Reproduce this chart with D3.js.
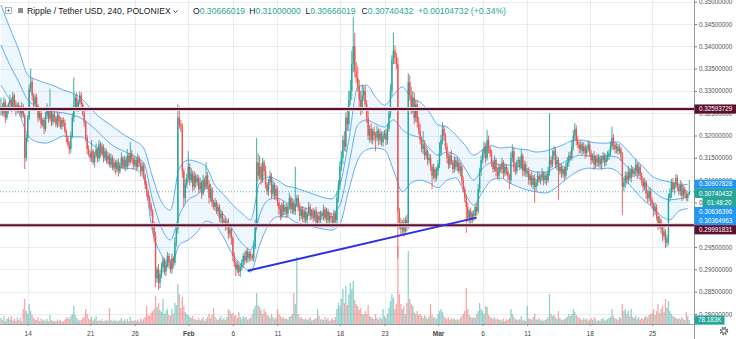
<!DOCTYPE html>
<html>
<head>
<meta charset="utf-8">
<script src="https://d3js.org/d3.v7.min.js"></script>
<style>
body { margin: 0; background: #fff; overflow: hidden; }
svg { display: block; font-family: "Liberation Sans", Arial, sans-serif; }
</style>
</head>
<body>
<svg id="chart" width="736" height="339"></svg>
<script>
// 4h candles XRP/USDT, first candle 11 Jan 2019 00:00 UTC
// prices in units of 0.0001 USDT, one row = one day (6 candles)
var closeP = [
3265,3250,3275,3240,3258,3270,
3280,3262,3290,3270,3255,3268,
3262,3250,3265,3245,3150,3195,
3240,3305,3320,3290,3270,3285,
3265,3240,3250,3225,3235,3215,
3245,3260,3238,3255,3230,3248,
3240,3225,3245,3232,3220,3235,
3228,3210,3195,3180,3170,3200,
3240,3265,3285,3262,3275,3290,
3270,3250,3230,3195,3170,3160,
3150,3165,3140,3155,3170,3148,
3180,3160,3175,3150,3165,3145,
3155,3135,3150,3128,3140,3125,
3140,3120,3135,3150,3130,3145,
3130,3155,3140,3160,3148,3135,
3145,3130,3150,3138,3120,3132,
3110,3090,3075,3060,3045,3030,
3000,2975,2880,2900,2870,2890,
2905,2920,2895,2910,2930,2915,
2900,2925,2915,2960,2990,3240,
3225,3220,3120,3060,3090,3105,
3130,3100,3115,3085,3110,3095,
3105,3080,3095,3070,3100,3085,
3110,3090,3060,3080,3050,3040,
3050,3030,3040,3015,3025,3005,
3010,2995,3005,2980,2990,2970,
2930,2915,2900,2910,2895,2905,
2915,2930,2920,2940,2925,2935,
2930,2925,2950,3000,3140,3110,
3130,3100,3140,3120,3090,3075,
3095,3110,3070,3090,3065,3080,
3050,3035,3020,3045,3030,3040,
3025,3040,3060,3035,3050,3030,
3045,3060,3040,3020,3035,3015,
3030,3010,3025,3040,3020,3030,
3015,3030,3005,3020,3010,3025,
3020,3035,3015,3030,3010,3020,
3015,3005,3025,3010,3060,3090,
3130,3150,3190,3175,3240,3225,
3280,3300,3360,3400,3345,3330,
3310,3280,3260,3290,3300,3270,
3240,3200,3215,3190,3210,3200,
3195,3210,3190,3205,3185,3200,
3205,3190,3215,3250,3300,3370,
3390,3375,3360,3030,3005,2990,
3005,2985,3010,3000,3320,3290,
3260,3285,3240,3270,3230,3210,
3190,3170,3180,3155,3165,3145,
3150,3130,3110,3125,3105,3120,
3135,3160,3190,3215,3200,3175,
3150,3135,3155,3140,3125,3145,
3130,3140,3120,3130,3100,3080,
3060,3040,3015,3030,3010,3025,
3020,3040,3030,3080,3120,3145,
3160,3175,3150,3190,3170,3160,
3140,3125,3145,3120,3110,3130,
3125,3140,3115,3130,3120,3110,
3100,3150,3165,3130,3120,3140,
3145,3130,3155,3120,3135,3115,
3120,3100,3110,3090,3105,3085,
3095,3110,3100,3105,3115,3100,
3110,3100,3120,3145,3135,3155,
3165,3135,3145,3120,3130,3115,
3125,3110,3130,3140,3155,3150,
3175,3200,3215,3190,3180,3170,
3180,3165,3175,3160,3170,3180,
3160,3145,3155,3135,3150,3140,
3150,3135,3145,3155,3140,3150,
3155,3160,3175,3195,3180,3170,
3175,3165,3170,3155,3085,3095,
3110,3100,3120,3105,3125,3115,
3120,3135,3115,3130,3110,3100,
3085,3095,3070,3060,3075,3055,
3045,3030,3040,3020,3000,3010,
2990,2975,2985,2960,2970,3060,
3070,3095,3080,3090,3105,3085,
3075,3090,3065,3080,3070,3060,
3067,3074
];
var firstOpen = 3255;

// upper wick above body, same units
var wickUp = [
20,8,12,6,10,5, 12,5,8,4,9,6, 7,5,10,6,4,8, 6,10,30,8,5,7, 9,5,7,10,4,6,
8,12,4,50,6,5, 7,4,9,6,10,5, 6,8,4,5,7,9, 10,65,8,12,6,9, 7,5,10,4,6,8,
6,25,5,9,12,4, 10,6,8,5,7,4, 8,5,10,6,9,5, 6,8,5,12,4,10, 7,15,6,25,8,5,
9,6,10,5,7,8, 6,5,8,4,6,5, 5,8,10,6,12,8, 10,8,5,12,9,6, 7,10,5,12,8,30,
25,10,8,6,12,9, 35,8,12,6,10,5, 8,6,10,5,12,6, 30,8,10,12,5,6, 10,5,8,6,9,5,
6,8,5,10,7,4, 5,8,6,10,5,7, 8,6,10,5,9,6, 7,5,10,12,55,20, 25,8,10,6,12,5,
8,12,6,10,5,9, 6,8,10,5,9,6, 8,6,12,5,10,7, 85,6,8,10,5,7, 6,9,5,12,7,5,
8,5,10,6,9,7, 6,10,5,8,6,9, 7,5,9,6,12,10, 12,15,10,20,12,25, 20,25,30,65,30,20,
25,15,20,25,10,12, 10,15,8,12,6,10, 8,12,6,10,5,9, 7,10,12,8,15,10, 40,12,10,15,8,10,
6,10,8,12,20,15, 20,15,12,10,8,12, 15,8,30,10,12,6, 10,8,6,12,5,9, 10,25,12,15,8,6,
8,10,6,12,5,9, 7,12,6,10,5,8, 6,8,10,5,9,6, 8,6,10,12,8,10, 10,12,8,22,10,6,
8,6,10,5,9,7, 6,10,5,8,6,9, 5,12,15,8,10,6, 8,6,15,5,9,7, 6,9,5,10,6,8,
7,10,6,8,12,5, 8,5,10,105,8,12, 12,8,10,6,9,5, 8,6,10,12,8,10, 15,12,13,8,10,6,
9,6,10,5,8,10, 6,8,5,10,6,9, 8,5,10,8,6,9, 10,8,12,25,8,6, 9,6,10,5,8,10,
10,8,12,6,9,5, 8,12,6,10,5,7, 6,10,5,8,9,5, 7,5,10,6,8,9, 6,8,10,5,7,10,
12,8,10,6,9,7, 8,10,6,9,5,7, 5,26
];

// lower wick below body
var wickDown = [
10,6,8,12,5,9, 7,10,5,8,12,6, 9,6,10,5,25,8, 10,6,8,12,6,9, 8,10,6,9,5,12,
6,8,10,5,9,6, 10,6,8,12,5,7, 8,5,10,6,12,9, 6,10,5,8,9,6, 9,6,10,8,12,7,
8,10,6,12,5,9, 6,9,5,10,7,8, 10,6,8,5,9,12, 8,12,6,9,5,7, 10,6,9,5,8,12,
6,10,5,8,12,6, 8,10,12,6,9,10, 12,15,20,10,16,12, 10,12,8,10,6,9, 8,10,12,6,9,10,
10,12,15,20,10,8, 9,12,6,10,8,12, 8,10,6,12,5,9, 6,10,12,8,10,6, 9,6,10,8,12,5,
10,8,6,12,8,15, 12,10,15,8,10,12, 8,12,10,6,9,8, 10,6,8,5,10,12, 8,10,6,12,9,8,
10,6,12,8,9,10, 8,12,10,6,9,8, 10,8,6,9,12,6, 8,6,10,12,8,10, 10,12,8,6,10,8,
9,6,12,8,10,6, 8,10,6,12,9,8, 10,12,8,6,8,10, 12,10,15,10,12,15, 15,12,20,18,15,12,
12,20,15,10,12,15, 12,10,15,8,10,12, 30,8,12,10,8,10, 8,12,10,6,10,12, 10,15,12,105,15,12,
10,12,8,15,10,12, 12,10,15,10,12,8, 10,8,12,10,8,12, 8,10,30,8,10,6, 10,8,6,10,12,8,
12,10,8,6,10,8, 8,10,6,12,10,8, 10,58,8,12,10,8, 12,8,10,6,8,10, 8,10,12,6,10,8,
10,8,6,12,8,10, 8,10,12,6,9,10, 20,8,10,12,8,6, 10,8,6,12,10,8, 8,10,12,6,10,35,
10,8,6,10,8,12, 8,12,6,10,8,6, 10,8,12,64,8,10, 8,10,6,8,10,6, 6,8,10,12,8,10,
10,8,6,12,8,6, 8,10,6,12,8,10, 10,8,12,6,10,8, 8,10,6,8,12,10, 10,8,6,12,63,10,
12,10,8,6,10,8, 8,10,12,6,8,12, 10,8,12,10,8,12, 10,12,8,10,12,8, 10,12,8,12,10,15,
8,10,6,12,8,10, 8,10,12,8,10,6, 8,1
];

// volume, thousands
var volumeK = [
120,80,160,60,100,140, 90,160,70,110,60,130, 80,120,60,300,500,260, 200,400,260,180,120,90,
80,140,60,110,70,90, 60,100,50,180,80,60, 70,50,90,60,80,40, 60,90,120,140,100,160,
200,360,180,120,90,70, 80,120,140,300,200,110, 90,140,70,100,160,60, 80,60,100,50,70,90,
60,320,80,50,90,60, 70,50,80,120,60,90, 60,100,50,140,70,60, 80,60,90,50,120,70,
100,140,360,180,160,220, 260,300,560,340,420,280, 240,500,200,260,300,180, 160,300,200,420,380,800,
600,320,540,360,240,200, 180,140,120,160,100,90, 80,120,70,100,140,60, 100,140,200,120,180,320,
140,100,80,120,160,90, 120,80,140,300,260,200, 220,160,180,120,240,140, 100,160,120,140,90,110,
120,200,300,360,620,380, 340,280,200,300,240,180, 160,120,200,140,100,130, 300,200,160,120,140,100,
120,90,140,160,200,620, 400,1340,200,120,140,100, 90,120,80,100,140,70, 80,100,120,300,160,90,
100,80,140,90,120,60, 90,120,80,140,300,420, 360,500,700,420,760,380, 600,820,700,860,480,400,
360,280,320,200,180,260, 200,380,160,140,120,100, 200,120,90,140,100,300, 160,120,200,320,460,600,
520,300,400,1560,600,400, 300,360,200,420,1460,500, 400,360,240,200,260,180, 200,160,120,180,140,100,
160,400,180,120,140,100, 200,260,300,240,160,120, 100,140,80,120,90,110, 80,100,70,120,160,200,
260,720,300,180,140,120, 140,120,200,260,420,300, 260,200,360,340,180,140, 120,100,140,90,110,80,
90,70,110,60,100,80, 120,300,200,140,100,90, 80,100,160,70,90,60, 360,120,100,90,140,200,
100,80,120,70,90,60, 80,100,140,600,200,160, 180,140,100,260,120,90, 80,100,120,140,200,160,
200,300,240,180,140,120, 100,80,120,90,110,70, 90,120,80,140,100,60, 80,60,100,120,70,90,
100,120,140,300,160,120, 100,80,140,120,400,260, 300,200,260,160,300,140, 120,160,100,140,90,120,
100,140,160,120,180,200, 220,300,180,260,400,220, 300,360,240,500,320,460, 260,200,160,140,120,100,
120,90,140,100,80,240, 160,78.183
];

// Bollinger bands read once per day (00:00 candle)
var bbUpper = [
3493,3441,3392,3336,3325,3318,3311,3302,3295,3284,
3262,3242,3228,3213,3199,3188,3172,3107,3051,3033,
3127,3145,3141,3130,3089,3067,3044,3026,3011,3094,
3107,3100,3087,3083,3076,3069,3062,3058,3089,3190,
3309,3313,3286,3268,3291,3309,3284,3275,3253,3224,
3219,3201,3179,3156,3168,3177,3172,3174,3170,3168,
3163,3165,3172,3179,3188,3190,3186,3183,3183,3186,
3172,3150,3130,3109,3100,3096,3089,3091];
var bbMiddle = [
3403,3358,3320,3280,3266,3257,3253,3251,3246,3239,
3224,3206,3186,3172,3163,3154,3139,3056,2993,2966,
3022,3056,3067,3083,3044,3022,2988,2959,2944,3022,
3056,3060,3049,3044,3038,3031,3026,3024,3044,3134,
3224,3235,3226,3219,3235,3213,3201,3195,3172,3156,
3163,3156,3127,3100,3127,3139,3134,3134,3130,3125,
3118,3118,3127,3139,3150,3156,3154,3152,3154,3152,
3134,3116,3096,3078,3062,3056,3058,3064];
var bbLower = [
3313,3280,3251,3201,3186,3183,3190,3199,3197,3197,
3183,3168,3141,3130,3127,3125,3105,2984,2932,2903,
2955,2966,2984,3008,3000,2970,2932,2910,2894,2955,
3000,3018,3018,3006,3000,2995,2991,2988,3002,3078,
3145,3168,3172,3168,3123,3074,3094,3100,3094,3083,
3100,3105,3071,3044,3074,3100,3105,3094,3085,3078,
3074,3071,3080,3096,3112,3123,3127,3125,3127,3121,
3100,3078,3056,3040,3020,3011,3031,3036];

var priceTicks = [0.35,0.345,0.34,0.335,0.33,0.325,0.32,0.315,0.31,0.305,0.30,0.295,0.29,0.285,0.28];
var dateTicks = ["2019-01-14","2019-01-21","2019-01-26","2019-02-01","2019-02-06","2019-02-11","2019-02-18",
                 "2019-02-23","2019-03-01","2019-03-06","2019-03-11","2019-03-18","2019-03-25"];
var dateTickLabels = ["14","21","26","Feb","6","11","18","23","Mar","6","11","18","25"];

var levelLines = [0.32593729, 0.29991831];
var trendDates = ["2019-02-07T16:00:00Z", "2019-03-05T08:00:00Z"];
var trendPrices = [0.2897, 0.3016];
var lastPrice = 0.30740432;
var bandLast = [0.30907828, 0.30636396, 0.30364963];
var countdown = "01:48:20";
var lastVolumeText = "78.183K";

var title = "Ripple / Tether USD, 240, POLONIEX";
var ohlcNames = ["O", "H", "L", "C"];
var ohlcValues = ["0.30666019", "0.31000000", "0.30666019", "0.30740432"];
var changeText = "+0.00104732 (+0.34%)";

// ---------------------------------------------------------------
var W = 736, H = 339, plotR = 694, plotB = 324;
var HOUR = 3600e3;
var t0 = Date.UTC(2019, 0, 11);
var upCol = "#26a69a", downCol = "#ef5350";

var x = d3.scaleUtc()
  .domain([new Date(t0), new Date(Date.UTC(2019, 2, 29))])
  .range([0.94, 0.94 + 77 * 8.92]);
var y = d3.scaleLinear().domain([0.28, 0.35]).range([314, 1.7]);
var yVol = d3.scaleLinear().domain([0, 1600]).range([plotB, plotB - 80]);

var n = closeP.length;
var candles = closeP.map(function(c, i) {
  var o = i === 0 ? firstOpen : closeP[i - 1];
  return {
    t: new Date(t0 + i * 4 * HOUR),
    o: o / 1e4, c: c / 1e4,
    h: (Math.max(o, c) + wickUp[i]) / 1e4,
    l: (Math.min(o, c) - wickDown[i]) / 1e4,
    v: volumeK[i]
  };
});
function col(d) { return d.c >= d.o ? upCol : downCol; }

var bands = bbUpper.map(function(u, d) {
  return { t: new Date(t0 + Math.min(d * 6, n - 1) * 4 * HOUR), u: u / 1e4, m: bbMiddle[d] / 1e4, l: bbLower[d] / 1e4 };
});

var svg = d3.select("#chart");
svg.append("rect").attr("width", W).attr("height", H).attr("fill", "#fff");
svg.append("clipPath").attr("id", "plot").append("rect").attr("width", plotR).attr("height", plotB);

// grid
var grid = svg.append("g").attr("stroke", "#e9edf2").attr("stroke-width", 1);
grid.selectAll(".h").data(priceTicks).enter().append("line")
  .attr("x1", 0).attr("x2", plotR)
  .attr("y1", function(d) { return Math.round(y(d)) + 0.5; })
  .attr("y2", function(d) { return Math.round(y(d)) + 0.5; });
grid.selectAll(".v").data(dateTicks).enter().append("line")
  .attr("x1", function(d) { return Math.round(x(new Date(d + "T00:00:00Z"))) + 0.5; })
  .attr("x2", function(d) { return Math.round(x(new Date(d + "T00:00:00Z"))) + 0.5; })
  .attr("y1", 0).attr("y2", plotB);

var plot = svg.append("g").attr("clip-path", "url(#plot)");

// volume
plot.append("g").selectAll("rect").data(candles).enter().append("rect")
  .attr("x", function(d) { return x(d.t) - 0.65; })
  .attr("width", 1.3)
  .attr("y", function(d) { return yVol(d.v); })
  .attr("height", function(d) { return plotB - yVol(d.v); })
  .attr("fill", function(d) { return d.c >= d.o ? "rgba(38,166,154,0.5)" : "rgba(239,83,80,0.5)"; });

// bollinger
plot.append("path").datum(bands)
  .attr("fill", "rgba(33,150,243,0.08)")
  .attr("d", d3.area().x(function(d) { return x(d.t); })
    .y0(function(d) { return y(d.l); }).y1(function(d) { return y(d.u); })
    .curve(d3.curveMonotoneX));
["u", "m", "l"].forEach(function(k) {
  plot.append("path").datum(bands)
    .attr("fill", "none").attr("stroke", "#4fa3f2").attr("stroke-width", 0.9)
    .attr("d", d3.line().x(function(d) { return x(d.t); }).y(function(d) { return y(d[k]); })
      .curve(d3.curveMonotoneX));
});

// candles
var cg = plot.append("g").selectAll("g").data(candles).enter().append("g");
cg.append("line")
  .attr("x1", function(d) { return x(d.t); }).attr("x2", function(d) { return x(d.t); })
  .attr("y1", function(d) { return y(d.h); }).attr("y2", function(d) { return y(d.l); })
  .attr("stroke", col).attr("stroke-width", 0.9);
cg.append("rect")
  .attr("x", function(d) { return x(d.t) - 0.7; }).attr("width", 1.4)
  .attr("y", function(d) { return y(Math.max(d.o, d.c)); })
  .attr("height", function(d) { return Math.max(1, Math.abs(y(d.o) - y(d.c))); })
  .attr("fill", col);

// horizontal levels
levelLines.forEach(function(p) {
  plot.append("line").attr("x1", 0).attr("x2", plotR).attr("y1", y(p)).attr("y2", y(p))
    .attr("stroke", "#e8d2da").attr("stroke-width", 4);
  plot.append("line").attr("x1", 0).attr("x2", plotR).attr("y1", y(p)).attr("y2", y(p))
    .attr("stroke", "#5d0f2f").attr("stroke-width", 2);
});

// trend line
plot.append("line")
  .attr("x1", x(new Date(trendDates[0]))).attr("y1", y(trendPrices[0]))
  .attr("x2", x(new Date(trendDates[1]))).attr("y2", y(trendPrices[1]))
  .attr("stroke", "#2b2fe6").attr("stroke-width", 2);

// last price dotted line
plot.append("line").attr("x1", 0).attr("x2", plotR)
  .attr("y1", y(lastPrice)).attr("y2", y(lastPrice))
  .attr("stroke", upCol).attr("stroke-width", 0.8).attr("stroke-dasharray", "1,2");

// axes
var ya = svg.append("g").attr("transform", "translate(" + plotR + ",0)")
  .call(d3.axisRight(y).tickValues(priceTicks).tickFormat(d3.format(".8f")).tickSize(3).tickPadding(2));
ya.select(".domain").remove();
ya.selectAll("line").attr("stroke", "#777");
ya.selectAll("text").attr("font-size", 6.3).attr("fill", "#555").attr("font-family", "Liberation Sans, Arial, sans-serif");

var xa = svg.append("g").attr("transform", "translate(0," + plotB + ")")
  .call(d3.axisBottom(x).tickValues(dateTicks.map(function(d) { return new Date(d + "T00:00:00Z"); }))
    .tickFormat(function(d, i) { return dateTickLabels[i]; }).tickSize(2).tickPadding(5));
xa.select(".domain").remove();
xa.selectAll("line").attr("stroke", "#888");
xa.selectAll("text").attr("font-size", 6.5).attr("fill", "#444").attr("font-family", "Liberation Sans, Arial, sans-serif")
  .attr("font-weight", function(d, i) { return /[A-Z]/.test(dateTickLabels[i]) ? "bold" : "normal"; });

svg.append("line").attr("x1", 0).attr("x2", plotR).attr("y1", plotB + 0.5).attr("y2", plotB + 0.5).attr("stroke", "#9598a1").attr("stroke-width", 1);
svg.append("line").attr("x1", plotR + 0.5).attr("x2", plotR + 0.5).attr("y1", 0).attr("y2", H).attr("stroke", "#9598a1").attr("stroke-width", 1);

// price labels on the scale, stacked so they do not overlap
var tags = [
  { v: levelLines[0], text: levelLines[0].toFixed(8), bg: "#5d0f2f", x0: plotR },
  { v: bandLast[0], text: bandLast[0].toFixed(8), bg: "#2196f3", x0: plotR },
  { v: lastPrice, text: lastPrice.toFixed(8), bg: upCol, x0: plotR },
  { v: lastPrice - 1e-9, text: countdown, bg: upCol, x0: plotR + 8 },
  { v: bandLast[1], text: bandLast[1].toFixed(8), bg: "#2196f3", x0: plotR },
  { v: bandLast[2], text: bandLast[2].toFixed(8), bg: "#2196f3", x0: plotR },
  { v: levelLines[1], text: levelLines[1].toFixed(8), bg: "#5d0f2f", x0: plotR }
];
tags.sort(function(a, b) { return b.v - a.v; });
var prev = -100;
tags.forEach(function(t) {
  t.yy = Math.max(y(t.v), prev + 9.1);
  prev = t.yy;
});
var tg = svg.append("g").selectAll("g").data(tags).enter().append("g");
tg.append("rect").attr("x", function(d) { return d.x0 + 0.5; }).attr("y", function(d) { return d.yy - 4.6; })
  .attr("width", function(d) { return W - d.x0; }).attr("height", 9.2).attr("fill", function(d) { return d.bg; });
tg.append("text").attr("x", function(d) { return d.x0 + 5; }).attr("y", function(d) { return d.yy; })
  .attr("dy", "0.34em").attr("font-size", 6.3).attr("fill", "#fff").text(function(d) { return d.text; });

// volume tag
var vLast = candles[n - 1].v;
svg.append("rect").attr("x", plotR + 0.5).attr("y", yVol(vLast) - 4.6).attr("width", 30).attr("height", 9.2).attr("fill", upCol);
svg.append("text").attr("x", plotR + 4).attr("y", yVol(vLast)).attr("dy", "0.34em")
  .attr("font-size", 6.3).attr("fill", "#fff").text(lastVolumeText);

// gear icon
var gear = svg.append("g").attr("transform", "translate(724,331)").attr("fill", "none").attr("stroke", "#555");
gear.append("circle").attr("r", 3.4).attr("stroke-width", 1.6).attr("stroke-dasharray", "1.5,1.17");
gear.append("circle").attr("r", 2.2).attr("stroke-width", 0.9);

// header
var hd = svg.append("g").attr("font-size", 8.6);
hd.append("rect").attr("x", 5.5).attr("y", 7.5).attr("width", 6).attr("height", 6).attr("fill", "#fff").attr("stroke", "#9a9ea8").attr("stroke-width", 0.8);
hd.append("path").attr("d", "M8.5,9V12M7,10.5H10").attr("stroke", "#777").attr("stroke-width", 0.8);
hd.append("rect").attr("x", 18).attr("y", 8).attr("width", 5).attr("height", 5).attr("fill", "#8a8e98");
hd.append("text").attr("x", 27).attr("y", 14).attr("fill", "#131722").text(title);
hd.append("path").attr("d", "M173.5,10.5L175.5,12.5L177.5,10.5").attr("fill", "none").attr("stroke", "#333").attr("stroke-width", 0.9);
ohlcNames.forEach(function(nm, k) {
  var t = hd.append("text").attr("x", 193 + k * 56.2).attr("y", 14);
  t.append("tspan").attr("fill", "#131722").text(nm);
  t.append("tspan").attr("fill", upCol).text(ohlcValues[k]);
});
hd.append("text").attr("x", 418).attr("y", 14).attr("fill", upCol).text(changeText);
</script>
</body>
</html>
